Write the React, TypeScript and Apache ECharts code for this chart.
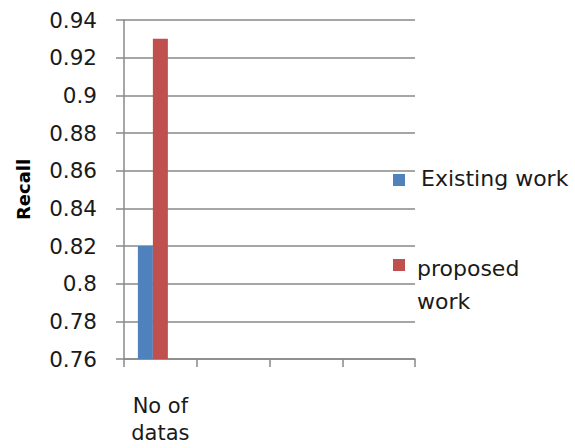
import React, { useEffect, useRef } from "react";
import * as echarts from "echarts";

const categories = ["No of\ndatas", "", "", ""];
const existingWork = [0.82, null, null, null];
const proposedWork = [0.93, null, null, null];
const emptySeries = [null, null, null, null];
const yMin = 0.76;
const yMax = 0.94;
const yStep = 0.02;

const FONT = "DejaVu Sans";

export default function App() {
  const ref = useRef<HTMLDivElement>(null);
  useEffect(() => {
    const chart = echarts.init(ref.current!, null, { renderer: "svg" });
    chart.setOption({
      animation: false,
      backgroundColor: "#ffffff",
      grid: { left: 124, right: 160, top: 20, bottom: 89, containLabel: false },
      xAxis: {
        type: "category",
        data: categories,
        axisLine: { lineStyle: { color: "#888888", width: 1.5 } },
        axisTick: { show: true, length: 8, lineStyle: { color: "#888888", width: 1.5 } },
        axisLabel: {
          interval: 0,
          color: "#1a1a1a",
          fontFamily: FONT,
          fontSize: 21,
          lineHeight: 27,
          margin: 33,
        },
      },
      yAxis: {
        type: "value",
        min: yMin,
        max: yMax,
        interval: yStep,
        name: "Recall",
        nameLocation: "middle",
        nameRotate: 90,
        nameGap: 92,
        nameTextStyle: { fontFamily: FONT, fontWeight: "bold", fontSize: 18, color: "#000000" },
        axisLine: { show: true, lineStyle: { color: "#888888", width: 1.5 } },
        axisTick: { show: true, length: 8, lineStyle: { color: "#888888", width: 1.5 } },
        splitLine: { show: true, lineStyle: { color: "#888888", width: 1.5 } },
        axisLabel: {
          color: "#1a1a1a",
          fontFamily: FONT,
          fontSize: 21.5,
          margin: 27,
          formatter: (v: number) => String(parseFloat(v.toFixed(2))),
        },
      },
      series: [
        { name: "Existing work", type: "bar", data: existingWork, barWidth: 15, barGap: "0%", itemStyle: { color: "#4F81BD" } },
        { name: "proposed work", type: "bar", data: proposedWork, barWidth: 15, barGap: "0%", itemStyle: { color: "#C0504D" } },
        { name: "empty", type: "bar", data: emptySeries, barWidth: 15, barGap: "0%", itemStyle: { color: "transparent" } },
      ],
      graphic: [
        { type: "rect", left: 393, top: 174, shape: { width: 12, height: 12 }, style: { fill: "#4F81BD" } },
        { type: "text", left: 421, top: 167, style: { text: "Existing work", font: `22px "${FONT}"`, fill: "#1a1a1a" } },
        { type: "rect", left: 393, top: 259, shape: { width: 12, height: 12 }, style: { fill: "#C0504D" } },
        { type: "text", left: 417, top: 252, style: { text: "proposed\nwork", font: `22px "${FONT}"`, lineHeight: 33, fill: "#1a1a1a" } },
      ],
    });
    return () => chart.dispose();
  }, []);
  return <div ref={ref} style={{ width: 575, height: 448, position: "absolute", left: 0, top: 0 }} />;
}
